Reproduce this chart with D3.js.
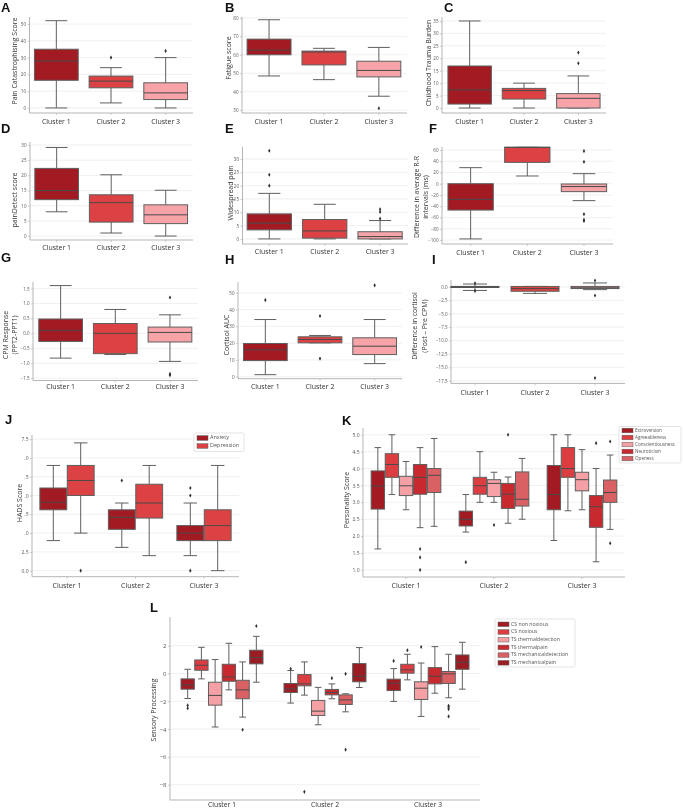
<!DOCTYPE html>
<html><head><meta charset="utf-8">
<script src="https://cdn.jsdelivr.net/npm/d3@7"></script>
<style>body{margin:0;background:#fff;} svg{display:block;will-change:transform;} text{-webkit-font-smoothing:antialiased;}</style>
</head><body><svg id="c" width="683" height="808"></svg>
<script>
// ---------------- DATA ----------------
// each box: [lower whisker, Q1, median, Q3, upper whisker]
const clusters = ["Cluster 1", "Cluster 2", "Cluster 3"];

const painCatastrophising = [[0,16.5,28,35,52],[3,12,16,19,24],[0,5,9,15,30]];
const painCatastrophisingOut = [[],[30],[34]];

const fatigue = [[48.5,60,62.5,68.5,79],[46.5,54.5,61.5,62,63.5],[37.5,48,51.5,56.5,64]];
const fatigueOut = [[],[],[31]];

const traumaBurden = [[0,1.6,7.3,16.9,35],[0,3.6,7,7.9,10],[0,0,3.9,5.8,12.9]];
const traumaBurdenOut = [[],[],[18,22.3]];

const painDetect = [[8,12,15,22.3,29.2],[1,4.6,11,13.6,20.2],[0,4.1,7,10.3,15.1]];
const painDetectOut = [[],[],[]];

const widespreadPain = [[0,3.4,5.9,9.4,17.1],[0,0.3,3,7.3,13],[0,0,0.9,2.7,6.9]];
const widespreadPainOut = [[20,24.1,33.1],[],[7.6,10.1,11.1]];

const rrDifference = [[-98,-46.7,-27.7,0.1,28.6],[13.8,38,64.8,64.8,64.8],[-30,-14,-5,-0.4,17.9]];
const rrDifferenceOut = [[],[],[58,39,-54,-64,-66]];

const cpmResponse = [[-0.83,-0.27,0.1,0.48,1.6],[-0.71,-0.68,0,0.33,0.8],[-0.94,-0.29,0.03,0.21,0.62]];
const cpmResponseOut = [[],[],[1.2,-1.36,-1.4]];

const cortisolAUC = [[1.2,9.6,16,19.8,34.1],[20.2,20.2,22.2,23.8,24.6],[7.8,13.2,18.2,23.2,34.1]];
const cortisolAUCOut = [[45.7],[36.2,10.8],[54.5]];

const cortisolDiff = [[-0.65,-0.1,0,0.1,0.55],[-1.2,-0.8,-0.3,0.1,0.1],[-0.5,-0.3,-0.15,0.1,0.75]];
const cortisolDiffOut = [[0.7,-0.75],[],[1.2,-1.6,-17.0]];

const hadsAnxiety = [[4,8.1,9.1,11,14],[3.1,5.5,7.1,8.1,9],[2,4,5,6,9]];
const hadsAnxietyOut = [[],[12],[11,10,0]];
const hadsDepression = [[5,10,12,14,17],[2,7,9,11.5,14],[0,4,6,8.1,14]];
const hadsDepressionOut = [[0],[],[]];
const hadsTicks = [0,2.5,5,7.5,10,12.5,15,17.5];
const hadsTickLabels = ["0.0","2.5",".0",".5",".0",".5",".0","7.5"];

const traits = ["Extroversion","Agreeableness","Conscientiousness","Neuroticism","Openess"];
const extroversion = [[1.62,2.8,3.48,3.93,4.62],[2.12,2.3,2.5,2.74,3.23],[1.87,2.78,3.23,4.09,5.0]];
const extroversionOut = [[],[1.23],[]];
const agreeableness = [[3.23,3.74,4.12,4.44,5.0],[3.0,3.24,3.49,3.74,4.5],[2.75,3.74,4.0,4.62,5.0]];
const agreeablenessOut = [[],[],[]];
const conscientiousness = [[2.78,3.2,3.49,3.77,4.21],[3.0,3.17,3.56,3.67,3.89],[2.78,3.34,3.67,3.89,4.56]];
const conscientiousnessOut = [[],[2.33],[]];
const neuroticism = [[2.25,3.24,3.74,4.12,4.62],[2.38,2.82,3.24,3.56,3.75],[1.24,2.26,2.87,3.2,4.0]];
const neuroticismOut = [[1.62,1.37,1.0],[5.0],[4.75]];
const openess = [[2.29,3.29,3.8,4.0,4.89],[2.5,2.89,3.09,3.9,4.3],[2.2,3.0,3.29,3.66,4.4]];
const openessOut = [[],[],[4.8,1.79]];

const sensoryMeasures = ["CS non noxious","CS noxious","TS thermaldetection","TS thermalpain","TS mechanicaldetection","TS mechanicalpain"];
const csNonNoxious = [[-1.8,-1.13,-0.82,-0.39,0.3],[-2.13,-1.37,-1.11,-0.72,0.21],[-2.01,-1.23,-0.7,-0.41,0.35]];
const csNonNoxiousOut = [[-2.3,-2.5],[0.33],[0.9]];
const csNoxious = [[-0.39,0.23,0.59,0.97,1.88],[-1.56,-0.89,-0.75,-0.08,0.83],[-0.46,0.02,0.26,0.66,1.38]];
const csNoxiousOut = [[],[-8.51],[1.67]];
const tsThermalDetection = [[-3.85,-2.28,-1.58,-0.63,1.0],[-3.69,-3.02,-2.71,-1.94,-1.0],[-3.09,-1.87,-1.06,-0.6,0.75]];
const tsThermalDetectionOut = [[],[],[1.9]];
const tsThermalPain = [[-1.18,-0.56,-0.25,0.66,2.17],[-1.82,-1.54,-1.37,-1.15,-0.75],[-1.42,-0.75,-0.2,0.42,1.93]];
const tsThermalPainOut = [[],[-0.34],[]];
const tsMechanicalDetection = [[-3.14,-1.82,-1.18,-0.49,0.83],[-2.76,-2.23,-1.9,-1.54,-1.46],[-1.75,-0.72,-0.03,0.14,1.38]];
const tsMechanicalDetectionOut = [[-4.05],[-0.03,-5.48],[-2.32,-2.42,-2.56,-3.09]];
const tsMechanicalPain = [[-0.63,0.69,1.14,1.67,2.67],[-1.01,-0.6,-0.2,0.71,1.86],[-1.13,0.3,0.81,1.33,2.24]];
const tsMechanicalPainOut = [[3.41],[],[]];

// ---------------- STYLE ----------------
const C1 = "#a21b23", C2 = "#dc4244", C3 = "#f6a4a8";
const traitColors = ["#a21b23","#dc3d40","#f5a0a4","#c8292e","#d96163"];
const sensoryColors = ["#a21b23","#dc3d40","#f5a0a4","#c8292e","#d96163","#9b1c22"];
const EDGE = "#5f5f5f";
const FONT = "'Open Sans', 'Noto Sans', sans-serif";

const svg = d3.select("#c");

function drawBox(g, cx, w, st, outs, y, color) {
  const [lo, q1, med, q3, hi] = st;
  const b = g.append("g");
  b.append("line").attr("x1", cx).attr("x2", cx).attr("y1", y(lo)).attr("y2", y(q1)).attr("stroke", EDGE).attr("stroke-width", 1);
  b.append("line").attr("x1", cx).attr("x2", cx).attr("y1", y(q3)).attr("y2", y(hi)).attr("stroke", EDGE).attr("stroke-width", 1);
  [lo, hi].forEach(v => b.append("line").attr("x1", cx - w / 4).attr("x2", cx + w / 4).attr("y1", y(v)).attr("y2", y(v)).attr("stroke", EDGE).attr("stroke-width", 1));
  b.append("rect").attr("x", cx - w / 2).attr("width", w).attr("y", y(q3)).attr("height", Math.max(0.8, y(q1) - y(q3)))
    .attr("fill", color).attr("stroke", EDGE).attr("stroke-width", 1);
  b.append("line").attr("x1", cx - w / 2).attr("x2", cx + w / 2).attr("y1", y(med)).attr("y2", y(med)).attr("stroke", "#4a4a4a").attr("stroke-width", 1);
  const sym = d3.symbol().type(d3.symbolDiamond).size(5);
  b.selectAll("path.o").data(outs).join("path").attr("class", "o").attr("d", sym)
    .attr("transform", d => `translate(${cx},${y(d)})`).attr("fill", "#333");
}

function panel(o) {
  const g = svg.append("g");
  const y = d3.scaleLinear().domain(o.domain).range([o.bottom, o.top]);
  const x = d3.scaleBand().domain(clusters).range(o.band);
  // grid
  g.selectAll("line.grid").data(o.ticks).join("line").attr("class", "grid")
    .attr("x1", o.spine).attr("x2", o.right).attr("y1", d => y(d)).attr("y2", d => y(d))
    .attr("stroke", "#ececec").attr("stroke-width", 0.8);
  // y axis
  const ya = g.append("g").attr("transform", `translate(${o.spine},0)`)
    .call(d3.axisLeft(y).tickValues(o.ticks).tickFormat((d, i) => o.labels ? o.labels[i] : o.fmt(d)).tickSize(2).tickPadding(1.5));
  ya.select(".domain").remove();
  ya.selectAll("line").attr("stroke", "#aaa").attr("stroke-width", 0.6);
  ya.selectAll("text").attr("font-size", o.tickFs || 4.5).attr("fill", "#555").attr("font-family", FONT);
  // x axis
  const xa = g.append("g").attr("transform", `translate(0,${o.bottom})`)
    .call(d3.axisBottom(x).tickSize(2).tickPadding(o.xpad));
  xa.select(".domain").remove();
  xa.selectAll("line").attr("stroke", "#aaa").attr("stroke-width", 0.6);
  xa.selectAll("text").attr("font-size", o.xFs || 7).attr("fill", "#333").attr("font-family", FONT);
  // spines
  g.append("line").attr("x1", o.spine).attr("x2", o.spine).attr("y1", o.top).attr("y2", o.bottom).attr("stroke", "#b5b5b5").attr("stroke-width", 1);
  g.append("line").attr("x1", o.spine).attr("x2", o.right).attr("y1", o.bottom).attr("y2", o.bottom).attr("stroke", "#b5b5b5").attr("stroke-width", 1);
  // boxes
  const n = o.series.length;
  const slot = x.bandwidth() * 0.8 / n;
  o.series.forEach((s, si) => {
    s.stats.forEach((st, ci) => {
      const cx = x(clusters[ci]) + x.bandwidth() / 2 + (si - (n - 1) / 2) * slot;
      const col = s.colors ? s.colors[ci] : s.color;
      drawBox(g, cx, slot * (o.shrink || 1), st, s.out[ci], y, col);
    });
  });
  // y label
  o.ylabel.forEach((t, i) => {
    g.append("text").attr("transform", `translate(${o.ylx[i]},${o.ylc}) rotate(-90)`)
      .attr("text-anchor", "middle").attr("dominant-baseline", "middle")
      .attr("font-size", 7).attr("fill", "#333").attr("font-family", FONT).text(t);
  });
  // panel letter
  svg.append("text").attr("x", o.letter[1]).attr("y", o.letter[2]).attr("font-size", 13).attr("font-weight", "bold")
    .attr("font-family", "'Liberation Sans', Arial, sans-serif").attr("fill", "#111").text(o.letter[0]);
  return { g, y, x };
}

function legend(names, colors, x0, y0, w, h, rowY, fs, swW) {
  const g = svg.append("g");
  g.append("rect").attr("x", x0).attr("y", y0).attr("width", w).attr("height", h).attr("rx", 1.5)
    .attr("fill", "#fff").attr("stroke", "#d8d8d8").attr("stroke-width", 0.7);
  names.forEach((n, i) => {
    const yy = y0 + rowY[0] + i * rowY[1];
    g.append("rect").attr("x", x0 + 3).attr("y", yy - 2.3).attr("width", swW).attr("height", 4.6)
      .attr("fill", colors[i]).attr("stroke", EDGE).attr("stroke-width", 0.5);
    g.append("text").attr("x", x0 + 5 + swW).attr("y", yy).attr("dominant-baseline", "middle")
      .attr("font-size", fs).attr("fill", "#555").attr("font-family", FONT).text(n);
  });
}

const clusterColors = [C1, C2, C3];
const f0 = d3.format("d"), f1 = d3.format(".1f");

// Row 1
panel({ letter: ["A", 1, 12], spine: 29.5, right: 193, band: [29, 193], top: 17, bottom: 113, domain: [-3, 54.2],
  ticks: [0,10,20,30,40,50], fmt: f0, xpad: 4.5, ylabel: ["Pain Catastrophising Score"], ylx: [15], ylc: 61,
  series: [{ stats: painCatastrophising, out: painCatastrophisingOut, colors: clusterColors }] });
panel({ letter: ["B", 225, 12], spine: 242, right: 407, band: [241.6, 406.3], top: 17, bottom: 113, domain: [28.4, 80.5],
  ticks: [30,40,50,60,70,80], fmt: f0, xpad: 4.5, ylabel: ["Fatigue score"], ylx: [229], ylc: 58,
  series: [{ stats: fatigue, out: fatigueOut, colors: clusterColors }] });
panel({ letter: ["C", 444, 12], spine: 442, right: 606, band: [442.5, 605.5], top: 17, bottom: 113, domain: [-2, 36.6],
  ticks: [0,5,10,15,20,25,30,35], fmt: f0, xpad: 4.5, ylabel: ["Childhood Trauma Burden"], ylx: [429], ylc: 63,
  series: [{ stats: traumaBurden, out: traumaBurdenOut, colors: clusterColors }] });

// Row 2
panel({ letter: ["D", 1, 133], spine: 30, right: 193, band: [29.4, 193], top: 142, bottom: 240, domain: [-1.3, 31],
  ticks: [0,5,10,15,20,25,30], fmt: f0, xpad: 3.5, ylabel: ["painDetect score"], ylx: [15], ylc: 200,
  series: [{ stats: painDetect, out: painDetectOut, colors: clusterColors }] });
panel({ letter: ["E", 225, 133], spine: 242.5, right: 408, band: [241.6, 407.8], top: 147, bottom: 244, domain: [-1.9, 34.5],
  ticks: [0,5,10,15,20,25,30], fmt: f0, xpad: 3.5, ylabel: ["Widespread pain"], ylx: [231], ylc: 193,
  series: [{ stats: widespreadPain, out: widespreadPainOut, colors: clusterColors }] });
panel({ letter: ["F", 429, 133], spine: 442, right: 613, band: [442.3, 612.3], top: 147, bottom: 244, domain: [-107, 65.3],
  ticks: [-100,-80,-60,-40,-20,0,20,40,60], fmt: f0, xpad: 4, ylabel: ["Difference in average R-R", "intervals (ms)"], ylx: [417, 426], ylc: 197,
  series: [{ stats: rrDifference, out: rrDifferenceOut, colors: clusterColors }] });

// Row 3
panel({ letter: ["G", 1, 262], spine: 33, right: 198, band: [33.3, 197.3], top: 282, bottom: 380.5, domain: [-1.58, 1.72],
  ticks: [-1.5,-1,-0.5,0,0.5,1,1.5], fmt: f1, xpad: 2, ylabel: ["CPM Response", "(PPT2-PPT1)"], ylx: [6.5, 15], ylc: 335,
  series: [{ stats: cpmResponse, out: cpmResponseOut, colors: clusterColors }] });
panel({ letter: ["H", 225, 264], spine: 238, right: 402, band: [238, 402], top: 282, bottom: 378.7, domain: [-1.2, 56.5],
  ticks: [0,10,20,30,40,50], fmt: f0, xpad: 3, ylabel: ["Cortisol AUC"], ylx: [227], ylc: 335,
  series: [{ stats: cortisolAUC, out: cortisolAUCOut, colors: clusterColors }] });
panel({ letter: ["I", 432, 264], spine: 451, right: 625, band: [445, 625], top: 280, bottom: 383.4, domain: [-18, 1.3],
  ticks: [-17.5,-15,-12.5,-10,-7.5,-5,-2.5,0], fmt: f1, xpad: 4.5, ylabel: ["Difference in cortisol", "(Post \u2013 Pre CPM)"], ylx: [415, 425], ylc: 326,
  series: [{ stats: cortisolDiff, out: cortisolDiffOut, colors: clusterColors }] });

// Row 4
panel({ letter: ["J", 5, 424], spine: 32, right: 239, band: [32.75, 238.25], top: 435, bottom: 576.7, domain: [-0.8, 18.05],
  ticks: hadsTicks, labels: hadsTickLabels, tickFs: 5, xpad: 4, ylabel: ["HADS Score"], ylx: [20], ylc: 503, shrink: 0.98,
  series: [{ stats: hadsAnxiety, out: hadsAnxietyOut, color: C1 }, { stats: hadsDepression, out: hadsDepressionOut, color: C2 }] });
legend(["Anxiety", "Depression"], [C1, C2], 194, 433, 50, 18.5, [5, 8], 5.5, 11);

panel({ letter: ["K", 342, 425], spine: 363, right: 625, band: [362, 626], top: 428, bottom: 577, domain: [0.79, 5.2],
  ticks: [1,1.5,2,2.5,3,3.5,4,4.5,5], fmt: f1, tickFs: 5, xpad: 4, ylabel: ["Personality Score"], ylx: [347], ylc: 500, shrink: 0.95,
  series: [
    { stats: extroversion, out: extroversionOut, color: traitColors[0] },
    { stats: agreeableness, out: agreeablenessOut, color: traitColors[1] },
    { stats: conscientiousness, out: conscientiousnessOut, color: traitColors[2] },
    { stats: neuroticism, out: neuroticismOut, color: traitColors[3] },
    { stats: openess, out: openessOut, color: traitColors[4] }] });
legend(traits, traitColors, 619, 426.5, 62, 36.5, [4, 7], 4.6, 11);

// Row 5
panel({ letter: ["L", 150, 612], spine: 170, right: 480, band: [170.5, 479.5], top: 617, bottom: 800, domain: [-9.1, 4.06],
  ticks: [-8,-6,-4,-2,0,2], fmt: f0, tickFs: 6, xpad: 0, xFs: 6.8, ylabel: ["Sensory Processing"], ylx: [154], ylc: 710, shrink: 0.97,
  series: [
    { stats: csNonNoxious, out: csNonNoxiousOut, color: sensoryColors[0] },
    { stats: csNoxious, out: csNoxiousOut, color: sensoryColors[1] },
    { stats: tsThermalDetection, out: tsThermalDetectionOut, color: sensoryColors[2] },
    { stats: tsThermalPain, out: tsThermalPainOut, color: sensoryColors[3] },
    { stats: tsMechanicalDetection, out: tsMechanicalDetectionOut, color: sensoryColors[4] },
    { stats: tsMechanicalPain, out: tsMechanicalPainOut, color: sensoryColors[5] }] });
legend(sensoryMeasures, sensoryColors, 495, 619, 80, 48, [5.3, 7.7], 5.2, 11);
</script>
</body></html>
